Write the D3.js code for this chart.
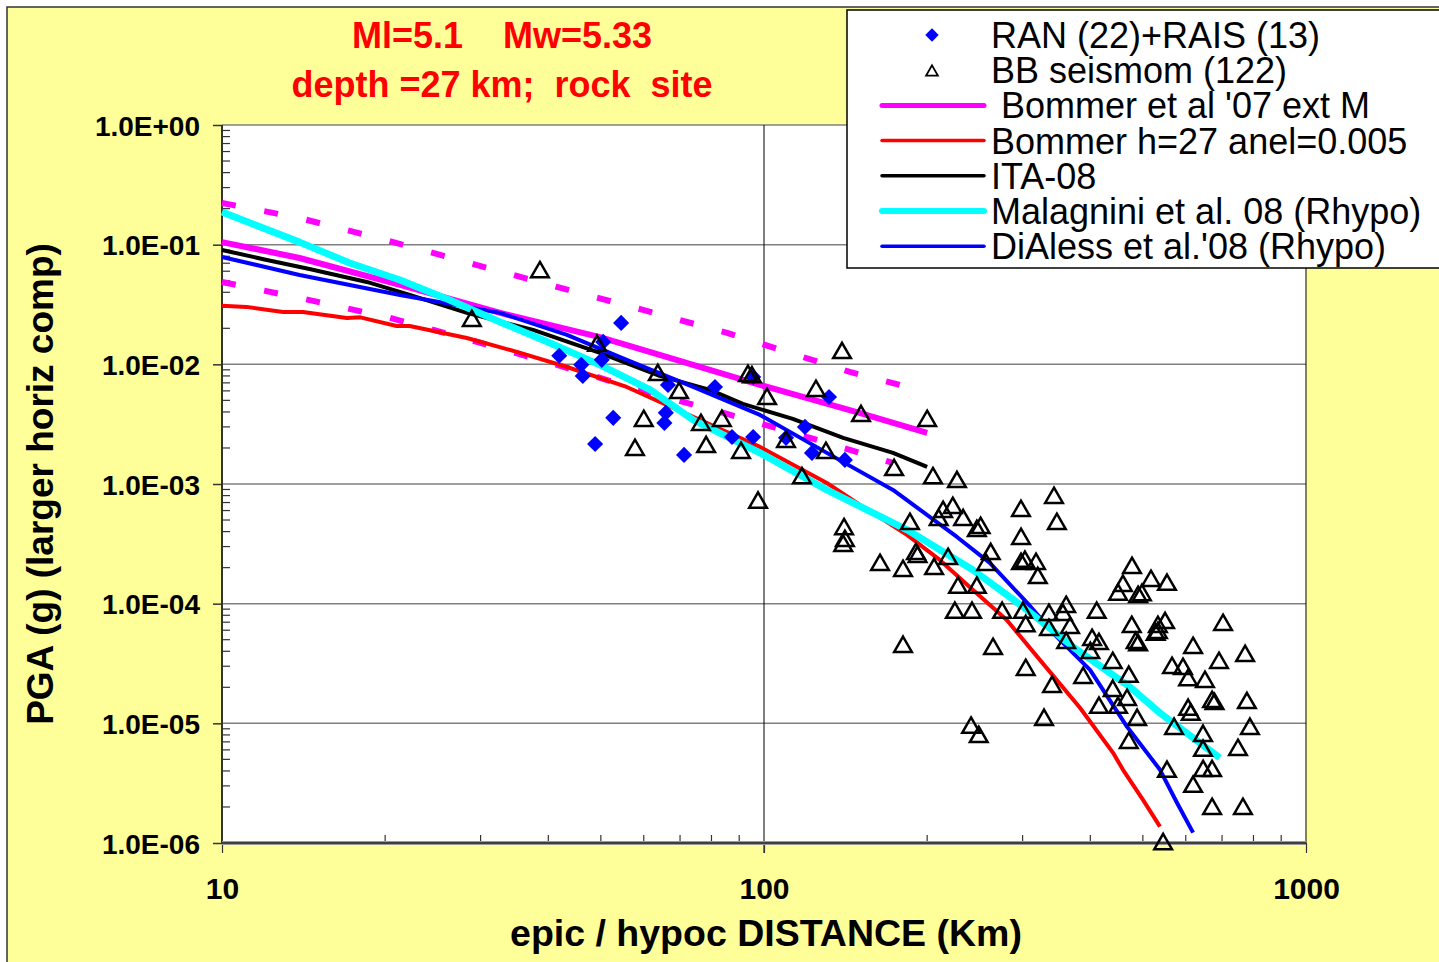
<!DOCTYPE html>
<html>
<head>
<meta charset="utf-8">
<script src="https://cdn.jsdelivr.net/npm/d3@7"></script>
<style>
  body { margin: 0; background: #fff; }
  text { font-family: Arial, "Liberation Sans", sans-serif; white-space: pre; }
</style>
</head>
<body>
<div id="chart"></div>
<script>
// Data: [distance km, PGA g]
const ranRais = [
    [54.5, 0.0222], [50.5, 0.0154], [41.9, 0.0118], [46.0, 0.0099], [46.3, 0.0080],
    [50.2, 0.0109], [52.7, 0.00357], [48.8, 0.00216], [66.5, 0.00673], [65.9, 0.00393],
    [65.5, 0.00324], [71.2, 0.00175], [81.2, 0.00647], [87.3, 0.00247], [95.5, 0.00247],
    [95.5, 0.00785], [109.8, 0.00243], [119, 0.0030], [122.6, 0.00182], [131.8, 0.00534],
    [141, 0.00159]
];

const bbSeismom = [
    [28.9, 0.0231], [38.6, 0.059], [49.2, 0.0143], [57.8, 0.00193], [60, 0.00337],
    [63.7, 0.00815], [69.7, 0.00577], [76.5, 0.00312], [78.2, 0.00204], [83.6, 0.00337],
    [90.7, 0.00182], [93.4, 0.0080], [95, 0.0078], [101.3, 0.00514], [97.5, 0.00070],
    [109.8, 0.00225], [117.5, 0.00112], [124.7, 0.0060], [130.1, 0.00182], [139.3, 0.01245],
    [151, 0.0037], [173.8, 0.00131], [200, 0.00337], [205, 0.00112], [227, 0.00104],
    [140.5, 0.00042], [141, 0.000335], [140, 0.000304], [163.7, 0.000211], [180.5, 0.000188],
    [185.9, 0.000464], [190.7, 0.00026], [192, 0.000246], [206, 0.000195], [214, 0.000585],
    [210, 0.000501], [223, 0.000631], [233, 0.0005], [218.6, 0.000237], [342.8, 0.000766],
    [297.9, 0.000596], [347, 0.000464], [298, 0.000348], [247, 0.000406], [251, 0.00043],
    [262, 0.00026], [257, 0.000211], [228, 0.000136], [247, 0.000136], [225, 8.4e-5],
    [242, 8.4e-5], [180.5, 4.36e-5], [264.6, 4.19e-5], [275, 8.4e-5], [298, 0.000215],
    [303, 0.000224], [317.6, 0.000215], [320, 0.000164], [300.5, 8.4e-5], [304, 6.5e-5],
    [304, 2.8e-5], [340, 2.02e-5], [335.5, 8.06e-5], [335.5, 6.04e-5], [356, 8.06e-5],
    [361, 9.4e-5], [367, 6.28e-5], [361, 4.7e-5], [411, 8.4e-5], [403, 4.98e-5],
    [415, 4.6e-5], [400, 3.88e-5], [440, 3.2e-5], [388, 2.4e-5], [440, 1.87e-5],
    [467.6, 1.57e-5], [471, 2.45e-5], [477.5, 0.000199], [459.5, 0.000141], [450, 0.000119],
    [490, 0.000114], [477, 6.4e-5], [485, 4.7e-5], [490, 4.5e-5], [517.6, 0.000155],
    [554, 0.000144], [498, 0.000118], [450, 1.35e-5], [415, 1.35e-5], [488, 1.07e-5],
    [471, 6.87e-6], [533, 6.4e-5], [533, 5.7e-5], [528, 5.5e-5], [549.5, 6.9e-5],
    [703, 6.65e-5], [619, 4.27e-5], [566, 2.91e-5], [593, 2.85e-5], [606, 2.3e-5],
    [651, 2.22e-5], [691, 3.2e-5], [772, 3.66e-5], [606, 1.3e-5], [613, 1.18e-5],
    [671, 1.51e-5], [678, 1.45e-5], [778, 1.48e-5], [788, 9.0e-6], [571, 9.0e-6],
    [645.6, 7.87e-6], [645.6, 5.9e-6], [749, 6.0e-6], [646, 4.0e-6], [671, 4.0e-6],
    [554, 3.94e-6], [619, 2.95e-6], [671, 1.93e-6], [765, 1.93e-6], [545, 9.8e-7],
    [241, 9.2e-6], [249, 7.7e-6], [328.6, 1.07e-5]
];

const bommer07 = [
    [10, 0.105], [13.9, 0.0774], [21.3, 0.0461], [32.6, 0.0269], [49.8, 0.0169],
    [64.2, 0.0120], [98.3, 0.00673], [150, 0.00393], [200, 0.00267]
];
const bommer07Plus = [
    [10, 0.223], [13.9, 0.167], [20.1, 0.109], [41.5, 0.0443], [59.8, 0.0285],
    [85.5, 0.0183], [144, 0.00864], [178, 0.00673]
];
const bommer07Minus = [
    [10, 0.0488], [13.9, 0.0359], [20.1, 0.0249], [28.7, 0.016], [41.5, 0.00989],
    [59, 0.00611], [85.5, 0.00385], [121.6, 0.00243], [173, 0.0015]
];
const bommerH27 = [
    [10, 0.0308], [11.1, 0.0302], [12.96, 0.0274], [14.1, 0.0274], [17.0, 0.0244],
    [18.0, 0.0247], [21.0, 0.0209], [22.2, 0.0209], [28.3, 0.0166], [35.0, 0.0127],
    [43.3, 0.0095], [55.8, 0.00647], [74.0, 0.00364], [98.3, 0.00204], [130.6, 0.00102],
    [152.3, 0.000644], [183.6, 0.000376], [211, 0.000232], [243, 0.00013], [280.5, 7.3e-5],
    [322.8, 3.39e-5], [382.8, 1.35e-5], [440.6, 5.67e-6], [459.6, 4.09e-6], [500, 2.3e-6],
    [537.8, 1.37e-6]
];
const ita08 = [
    [10, 0.0903], [12.1, 0.0745], [14.5, 0.0627], [18.5, 0.0488], [22.2, 0.038],
    [28.3, 0.0269], [37.5, 0.0194], [49.8, 0.01245], [64.2, 0.0080], [79.5, 0.00611],
    [91.4, 0.00467], [113, 0.0035], [140, 0.00243], [173, 0.00182], [200, 0.00139]
];
const malagnini08 = [
    [10, 0.1876], [13.9, 0.105], [17.2, 0.0703], [21.3, 0.0507], [26.3, 0.0345],
    [32.6, 0.0226], [40.3, 0.0151], [49.8, 0.00989], [61.7, 0.00611], [74.0, 0.00343],
    [98.3, 0.00182], [130.6, 0.000893], [183.6, 0.000414], [243, 0.000191], [300.6, 9.4e-5],
    [371.5, 4.36e-5], [473, 2.02e-5], [537.8, 1.22e-5], [693, 5.15e-6]
];
const diAless08 = [
    [10, 0.0789], [13.9, 0.0558], [21.3, 0.038], [32.6, 0.0269], [43.3, 0.0176],
    [55.8, 0.0109], [74.0, 0.00647], [98.3, 0.00378], [130.6, 0.00182], [173, 0.000893],
    [227, 0.000361], [261, 0.000219], [305.6, 0.000102], [347, 5.28e-5], [399.5, 2.8e-5],
    [467.6, 9.35e-6], [537.8, 4.09e-6], [578, 2.17e-6], [619, 1.22e-6]
];

const xTicks = [10, 100, 1000];
const xTickLabels = ["10", "100", "1000"];
const yTicks = [1, 1e-1, 1e-2, 1e-3, 1e-4, 1e-5, 1e-6];
const yTickLabels = ["1.0E+00", "1.0E-01", "1.0E-02", "1.0E-03", "1.0E-04", "1.0E-05", "1.0E-06"];

const titleLines = ["Ml=5.1    Mw=5.33", "depth =27 km;  rock  site"];
const xTitle = "epic / hypoc DISTANCE (Km)";
const yTitle = "PGA (g) (larger horiz comp)";

const legendItems = [
    {label: "RAN (22)+RAIS (13)", type: "diamond"},
    {label: "BB seismom (122)", type: "triangle"},
    {label: " Bommer et al '07 ext M", type: "line", color: "#ff00ff", w: 5},
    {label: "Bommer h=27 anel=0.005", type: "line", color: "#ff0000", w: 3.5},
    {label: "ITA-08", type: "line", color: "#000000", w: 3.5},
    {label: "Malagnini et al. 08 (Rhypo)", type: "line", color: "#00ffff", w: 6},
    {label: "DiAless et al.'08 (Rhypo)", type: "line", color: "#0000ff", w: 3.5}
];

const width = 1439, height = 962;
const plot = {left: 222, right: 1306, top: 125, bottom: 843};

const svg = d3.select("#chart").append("svg")
    .attr("width", width)
    .attr("height", height);

// Background
svg.append("rect")
    .attr("x", 7).attr("y", 7)
    .attr("width", 1500).attr("height", 1000)
    .attr("fill", "#ffff99")
    .attr("stroke", "#333").attr("stroke-width", 1.5);

svg.append("rect")
    .attr("x", plot.left).attr("y", plot.top)
    .attr("width", plot.right - plot.left).attr("height", plot.bottom - plot.top)
    .attr("fill", "#fff");

// Scales
const x = d3.scaleLog().domain([10, 1000]).range([plot.left, plot.right]);
const y = d3.scaleLog().domain([1e-6, 1]).range([plot.bottom, plot.top]);

// Gridlines
svg.append("g").selectAll("line")
    .data(yTicks)
    .join("line")
    .attr("x1", plot.left).attr("x2", plot.right)
    .attr("y1", d => y(d)).attr("y2", d => y(d))
    .attr("stroke", "#808080").attr("stroke-width", 1.5);

svg.append("line")
    .attr("x1", x(100)).attr("x2", x(100))
    .attr("y1", plot.top).attr("y2", plot.bottom + 10)
    .attr("stroke", "#000").attr("stroke-width", 1);

svg.append("line")
    .attr("x1", plot.right).attr("x2", plot.right)
    .attr("y1", plot.top).attr("y2", plot.bottom)
    .attr("stroke", "#000").attr("stroke-width", 1);

// Axes
const yMinor = y.ticks().filter(d => !yTicks.some(t => Math.abs(Math.log10(t) - Math.log10(d)) < 1e-6));
const xMinor = x.ticks().filter(d => !xTicks.includes(d));

const yAxis = svg.append("g").attr("transform", `translate(${plot.left},0)`);
yAxis.append("g").call(d3.axisLeft(y).tickValues(yTicks).tickSize(9)
        .tickFormat((d, i) => yTickLabels[i]))
    .call(g => g.select(".domain").remove())
    .call(g => g.selectAll("line").attr("stroke", "#333").attr("stroke-width", 1.5))
    .call(g => g.selectAll("text")
        .attr("x", -22).attr("dy", "0.36em")
        .attr("font-size", 28).attr("font-weight", "bold").attr("fill", "#000"));
yAxis.append("g").selectAll("line")
    .data(yMinor)
    .join("line")
    .attr("x1", 0).attr("x2", 8)
    .attr("y1", d => y(d)).attr("y2", d => y(d))
    .attr("stroke", "#333").attr("stroke-width", 1.2);
yAxis.append("line")
    .attr("y1", plot.top).attr("y2", plot.bottom)
    .attr("stroke", "#333").attr("stroke-width", 2);

const xAxis = svg.append("g").attr("transform", `translate(0,${plot.bottom})`);
xAxis.append("g").call(d3.axisBottom(x).tickValues(xTicks).tickSize(10)
        .tickFormat((d, i) => xTickLabels[i]))
    .call(g => g.select(".domain").remove())
    .call(g => g.selectAll("line").attr("stroke", "#333").attr("stroke-width", 1.2))
    .call(g => g.selectAll("text")
        .attr("y", 56).attr("dy", 0)
        .attr("font-size", 30).attr("font-weight", "bold").attr("fill", "#000"));
xAxis.append("g").selectAll("line")
    .data(xMinor)
    .join("line")
    .attr("x1", d => x(d)).attr("x2", d => x(d))
    .attr("y1", 0).attr("y2", -8)
    .attr("stroke", "#333").attr("stroke-width", 1.2);
xAxis.append("line")
    .attr("x1", plot.left).attr("x2", plot.right)
    .attr("stroke", "#999").attr("stroke-width", 4);
xAxis.append("line")
    .attr("x1", plot.left).attr("x2", plot.right)
    .attr("stroke", "#222").attr("stroke-width", 1.5);

// Curves
const line = d3.line()
    .x(d => x(d[0]))
    .y(d => y(d[1]));

const curves = [
    {data: bommer07, color: "#ff00ff", w: 6},
    {data: bommer07Plus, color: "#ff00ff", w: 6, dash: "14,29"},
    {data: bommer07Minus, color: "#ff00ff", w: 6, dash: "14,29"},
    {data: bommerH27, color: "#ff0000", w: 4},
    {data: ita08, color: "#000000", w: 4},
    {data: diAless08, color: "#0000ff", w: 4},
    {data: malagnini08, color: "#00ffff", w: 7}
];

svg.append("g").selectAll("path")
    .data(curves)
    .join("path")
    .attr("d", d => line(d.data))
    .attr("fill", "none")
    .attr("stroke", d => d.color)
    .attr("stroke-width", d => d.w)
    .attr("stroke-dasharray", d => d.dash || null)
    .attr("stroke-linejoin", "round");

// Points
const diamond = d3.symbol(d3.symbolSquare, 130);
const triangle = d3.symbol(d3.symbolTriangle, 135);

svg.append("g").selectAll("path")
    .data(ranRais)
    .join("path")
    .attr("d", diamond)
    .attr("transform", d => `translate(${x(d[0])},${y(d[1])}) rotate(45)`)
    .attr("fill", "#0000ff");

svg.append("g").selectAll("path")
    .data(bbSeismom)
    .join("path")
    .attr("d", triangle)
    .attr("transform", d => `translate(${x(d[0])},${y(d[1])})`)
    .attr("fill", "none")
    .attr("stroke", "#000")
    .attr("stroke-width", 2.5);

// Titles
svg.append("g").selectAll("text")
    .data(titleLines)
    .join("text")
    .attr("x", 502)
    .attr("y", (d, i) => 48 + i * 49)
    .attr("text-anchor", "middle")
    .attr("font-size", 36)
    .attr("font-weight", "bold")
    .attr("fill", "#ff0000")
    .text(d => d);

svg.append("text")
    .attr("x", 766)
    .attr("y", 946)
    .attr("text-anchor", "middle")
    .attr("font-size", 37.5)
    .attr("font-weight", "bold")
    .text(xTitle);

svg.append("text")
    .attr("transform", `translate(53,${(plot.top + plot.bottom) / 2}) rotate(-90)`)
    .attr("text-anchor", "middle")
    .attr("font-size", 37)
    .attr("font-weight", "bold")
    .text(yTitle);

// Legend
const legend = svg.append("g");
legend.append("rect")
    .attr("x", 847).attr("y", 10)
    .attr("width", 620).attr("height", 258)
    .attr("fill", "#fff")
    .attr("stroke", "#000").attr("stroke-width", 1.5);

const rowY = i => 35 + i * 35.2;
const rows = legend.selectAll("g.item")
    .data(legendItems)
    .join("g")
    .attr("class", "item")
    .attr("transform", (d, i) => `translate(0,${rowY(i)})`);

rows.filter(d => d.type === "line").append("line")
    .attr("x1", 882).attr("x2", 984)
    .attr("stroke", d => d.color)
    .attr("stroke-width", d => d.w)
    .attr("stroke-linecap", "round");
rows.filter(d => d.type === "diamond").append("path")
    .attr("d", d3.symbol(d3.symbolSquare, 90))
    .attr("transform", "translate(932,0) rotate(45)")
    .attr("fill", "#0000ff");
rows.filter(d => d.type === "triangle").append("path")
    .attr("d", d3.symbol(d3.symbolTriangle, 60))
    .attr("transform", "translate(932,2)")
    .attr("fill", "none")
    .attr("stroke", "#000")
    .attr("stroke-width", 1.8);
rows.append("text")
    .attr("x", 991)
    .attr("y", 13)
    .attr("font-size", 36)
    .text(d => d.label);
</script>
</body>
</html>
